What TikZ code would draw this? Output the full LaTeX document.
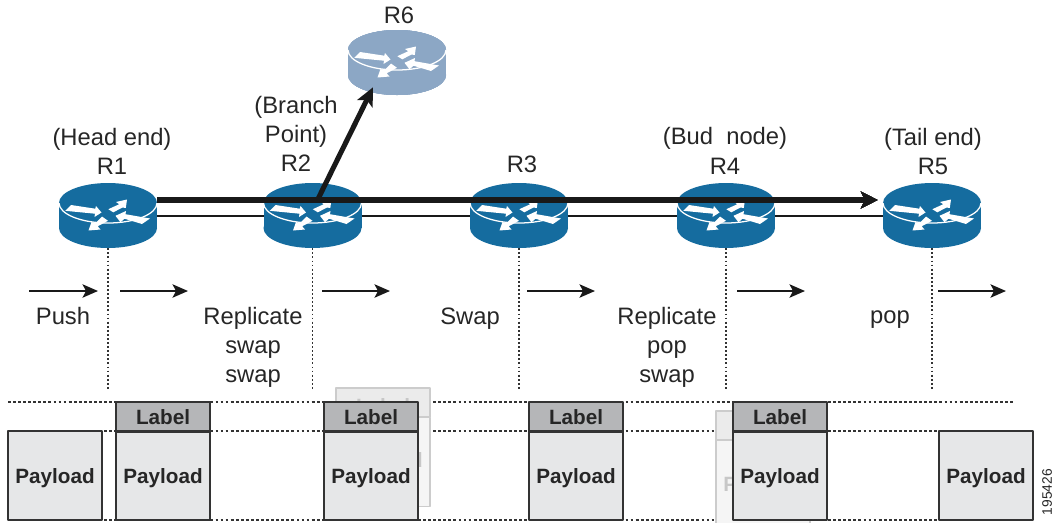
\documentclass[tikz,border=0pt]{standalone}
\usepackage{fontspec}
\setmainfont{Liberation Sans}
\usetikzlibrary{arrows.meta}
\definecolor{routerblue}{HTML}{156C9F}
\definecolor{routerpale}{HTML}{8CA7C5}
\definecolor{labelgray}{HTML}{B5B6B8}
\definecolor{payloadgray}{HTML}{E6E7E8}
\definecolor{boxline}{HTML}{333333}
\tikzset{
	routernode/.style={minimum width=2.45cm, minimum height=1.625cm, inner sep=0},
	tag/.style={font=\fontsize{16.9}{20.6}\selectfont, align=center, inner sep=0, text=black!85},
	flow/.style={line width=1.4pt, -{Stealth[length=11pt,width=9.5pt,inset=2.5pt]}, black!90},
	hop/.style={line width=1.1pt, dash pattern=on 1.3pt off 1.6pt, boxline},
	frame/.style={line width=1pt, dash pattern=on 2pt off 1.6pt, boxline},
	payload/.style={draw=boxline, line width=1pt, fill=payloadgray, minimum width=2.35cm, minimum height=2.225cm, inner sep=0, text height=11.5pt, text depth=0pt, font=\fontsize{14.7}{17}\selectfont\bfseries, text=black!85},
	label/.style={draw=boxline, line width=1pt, fill=labelgray, minimum width=2.35cm, minimum height=.725cm, inner sep=0, text height=12pt, text depth=0pt, font=\fontsize{14.7}{17}\selectfont\bfseries, text=black!85},
	ghost/.style={draw=black!20, line width=1pt, fill=#1, text=black!22},
}
% one router, drawn on its node
\newcommand{\drawrouter}[2]{
	\begin{scope}[shift={(#1.center)}]
		\fill[#2] (0,12.5) ellipse (49 and 20);
		\fill[#2] (-49,-12.5) rectangle (49,12.5);
		\fill[#2] (0,-12.5) ellipse (49 and 20);
		\draw[white, line width=.9pt] (-49,-12.5) arc[start angle=180, end angle=0, x radius=49, y radius=20];
		\fill[white] (-37,-10.5)--(-12.7,-6.8)--(-12,-9.5)--(-6.5,-3)--(-13.5,1.5)--(-13,-1.8)--(-42.7,-4.7)--cycle;
		\fill[white] (42,3)--(17.5,-1.3)--(18,-4.5)--(7.5,.3)--(12.5,6.8)--(16.5,3.2)--(34,8.5)--cycle;
		\fill[white] (.3,-6.3)--(11.3,-11.3)--(8,-13.5)--(19,-16)--(17.8,-7.5)--(14.5,-8)--(5.3,-3.2)--cycle;
		\fill[white] (-6,1)--(-12.7,7.7)--(-16.5,6.5)--(-19.5,15)--(-7.5,14)--(-10.3,10.8)--(0,5.3)--cycle;
	\end{scope}
}
\begin{document}
\begin{tikzpicture}[x=.025cm, y=-.025cm, line join=round, >=stealth]
	\useasboundingbox (0,0) rectangle (1055,522);
	\path
	(8,402) coordinate (A) (1013,402) coordinate (B)
	(8,431) coordinate (C) (939,431) coordinate (D)
	(8,520) coordinate (E) (1033,520) coordinate (F)
	;
	\foreach \x/\y in {R1/108,R2/312.5,R3/519,R4/726,R5/932}
	\node[routernode] (\x) at (\y,215.5) {};
	\node[routernode] (R6) at (397,62.5) {};
	% dotted lines
	\foreach \x in {R1,R2,R3,R4,R5} {
		\coordinate (\x f) at (\x.south |- 0,391);
		\draw[hop] (\x.south)--(\x f);
	}
	\draw[frame] (A)--(B) (C)--(D) (E)--(F);
	% thin line under the routers
	\draw[line width=2.1pt, black!90] ([shift={(0,.5)}]R1.east)--([shift={(0,.5)}]R5.west);
	\foreach \x in {R1,R2,R3,R4,R5} \drawrouter{\x}{routerblue}
	\drawrouter{R6}{routerpale}
	% thick lines
	\draw[line width=4.2pt, black!90, -{Stealth[length=12pt,width=12pt,inset=3pt]}] ([shift={(0,-15.5)}]R1.east)--([shift={(-5,-15.5)}]R5.west);
	\draw[line width=3.6pt, black!90, -{Stealth[length=13pt,width=12pt,inset=3pt]}] ([shift={(5,-15.5)}]R2.center)--([shift={(-24,-8)}]R6.south);
	% texts
	\foreach \p/\t in {{399,15}/R6, {296,122}/{(Branch\\Point)}, {296,163.5}/R2, {112,139.5}/(Head end), {112,166.5}/R1,
		{522,164.5}/R3, {725,138}/{(Bud\ \ node)}, {725,166.5}/R4, {933,139}/(Tail end), {933,166.5}/R5,
		{63,316}/Push, {253,347}/{Replicate\\swap\\swap}, {470,318.5}/Swap, {667,347}/{Replicate\\pop\\swap}, {890,320}/pop}
	\node[tag] at (\p) {\t};
	% flow arrows
	\foreach \a/\b in {29/98,120/188,322/390,527/595,737/805,938/1006} {
		\coordinate (s\a) at (\a,291);
		\coordinate (e\a) at (\b,291);
		\draw[flow] (s\a)--(e\a);
	}
	% shadows behind R2 and R4
	\node[payload, ghost=black!4, text height=8pt] (G2) at (383,462) {Payload};
	\node[label, ghost=black!8, text height=16pt] (H2) at (383,402.5) {Label};
	\begin{scope}
		\clip (0,0) rectangle (1055,522);
		\node[payload, ghost=black!4, text height=10.5pt] (G4) at (763,484.5) {Payload};
		\node[label, ghost=black!8] (H4) at (763,425.5) {Label};
	\end{scope}
	% packets
	\foreach \x/\y in {P1/55,P2/163,P3/371,P4/576,P5/780,P6/986}
	\node[payload] (\x) at (\y,475.5) {Payload};
	\foreach \x/\y in {L2/163,L3/371,L4/576,L5/780}
	\node[label] (\x) at (\y,416.5) {Label};
	\foreach \x in {L2,L3,L4,L5}
	\draw[line width=1.6pt, boxline] (\x.south west)--(\x.south east);
	\node[font=\fontsize{9.8}{12}\selectfont, rotate=90, inner sep=0, text=black!85] (N) at (1047,492) {195426};
\end{tikzpicture}
\end{document}
